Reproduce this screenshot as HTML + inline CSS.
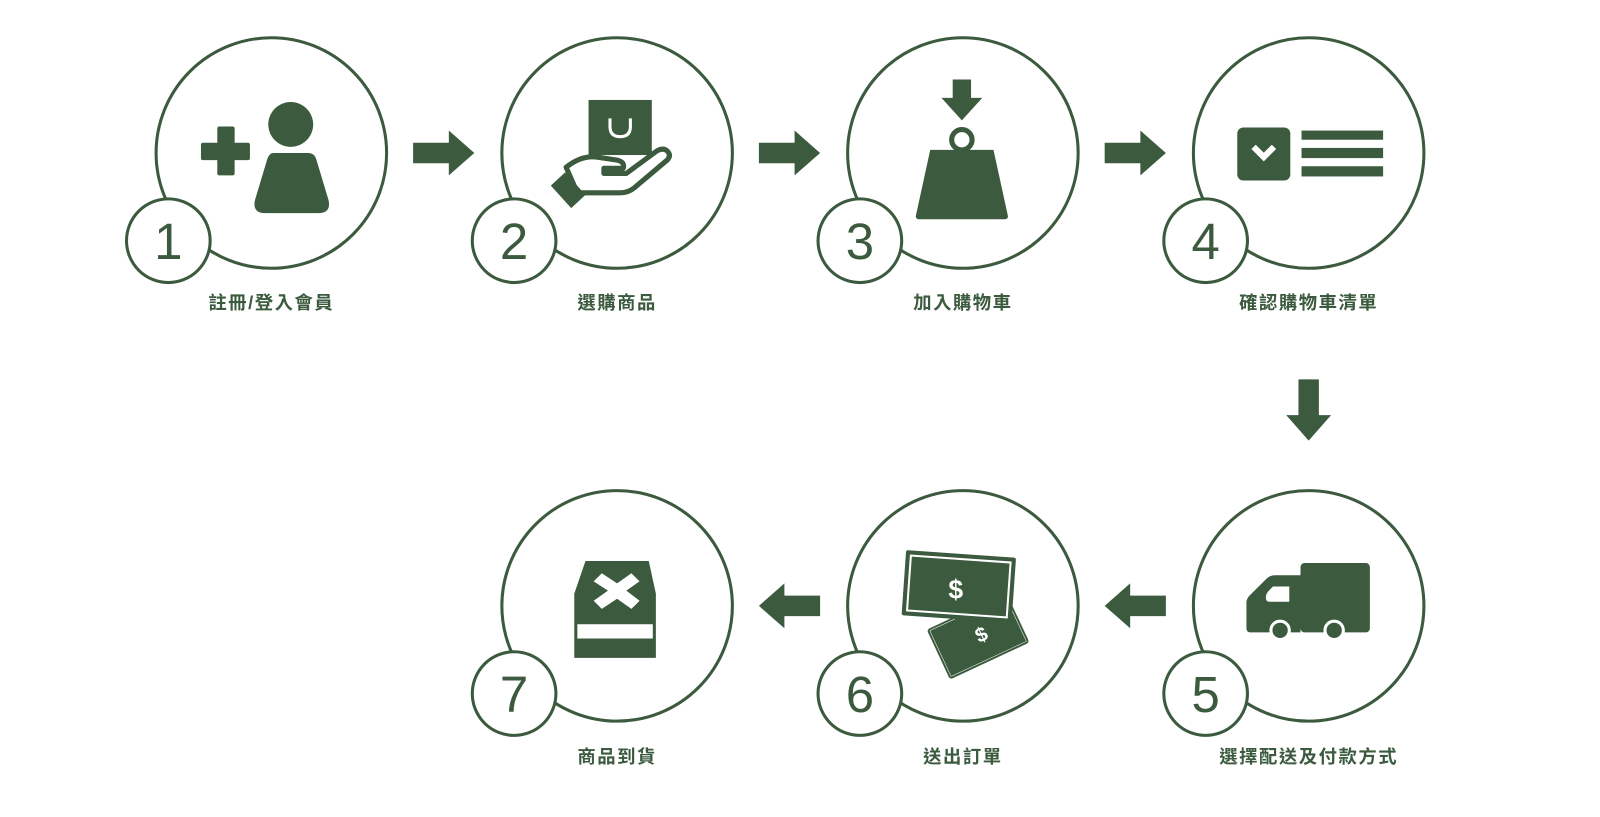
<!DOCTYPE html>
<html><head><meta charset="utf-8"><style>
html,body{margin:0;padding:0;background:#fff;width:1600px;height:817px;overflow:hidden}
text{font-family:"Liberation Sans","Noto Sans CJK TC",sans-serif;fill:#3b5a3e}
</style></head><body>
<svg width="1600" height="817" viewBox="0 0 1568.6 801" xmlns="http://www.w3.org/2000/svg">
<g fill="none" stroke="#3b5a3e" stroke-width="3">
<circle cx="266" cy="150" r="113"/>
<circle cx="605" cy="150" r="113"/>
<circle cx="944" cy="150" r="113"/>
<circle cx="1283" cy="150" r="113"/>
<circle cx="605" cy="594" r="113"/>
<circle cx="944" cy="594" r="113"/>
<circle cx="1283" cy="594" r="113"/>
</g>
<g fill="#fff" stroke="#3b5a3e" stroke-width="3">
<circle cx="165" cy="236" r="41"/>
<circle cx="504" cy="236" r="41"/>
<circle cx="843" cy="236" r="41"/>
<circle cx="1182" cy="236" r="41"/>
<circle cx="504" cy="680" r="41"/>
<circle cx="843" cy="680" r="41"/>
<circle cx="1182" cy="680" r="41"/>
</g>
<g font-size="50" text-anchor="middle" style="font-family:'DejaVu Sans','Liberation Sans',sans-serif">
<text x="165" y="254">1</text>
<text x="504" y="254">2</text>
<text x="843" y="254">3</text>
<text x="1182" y="254">4</text>
<text x="504" y="698">7</text>
<text x="843" y="698">6</text>
<text x="1182" y="698">5</text>
</g>
<g font-size="18" font-weight="bold" text-anchor="middle" letter-spacing="1.5">
<text x="266" y="303">註冊/登入會員</text>
<text x="605" y="303">選購商品</text>
<text x="944" y="303">加入購物車</text>
<text x="1283" y="303">確認購物車清單</text>
<text x="605" y="748">商品到貨</text>
<text x="944" y="748">送出訂單</text>
<text x="1283" y="748">選擇配送及付款方式</text>
</g>
<g fill="#3b5a3e">
<path d="M405 140h35v-12l25 22-25 22v-12h-35z"/>
<path d="M744 140h35v-12l25 22-25 22v-12h-35z"/>
<path d="M1083 140h35v-12l25 22-25 22v-12h-35z"/>
<path d="M1273 372h20v35h12l-22 25-22-25h12z"/>
<path d="M804 584h-35v-12l-25 22 25 22v-12h35z"/>
<path d="M1143 584h-35v-12l-25 22 25 22v-12h35z"/>
<rect x="197" y="140" width="48" height="17" rx="2"/>
<rect x="213" y="124" width="17" height="48" rx="2"/>
<circle cx="285" cy="122" r="22"/>
<path d="M268 150h34q6 0 8 6l12 40q3 13-10 13h-52q-13 0-10-13l12-40q2-6 6-6z"/>
<rect x="577" y="98" width="62" height="54"/>
<path d="M598 116v8q0 10 10 10t10-10v-8" fill="none" stroke="#fff" stroke-width="3"/>
<path d="M555 164q15-12 30-10l20 3q8 2 6 8h-19v5h22l30-22q7-4 11 1q3 4-1 8l-32 27q-6 5-14 5h-42z" fill="none" stroke="#3b5a3e" stroke-width="5" stroke-linejoin="round"/>
<path d="M540 182l14-13 20 22-14 13z"/>
<path d="M934 78h18v18h11l-20 22-20-22h11z"/>
<circle cx="943" cy="137" r="10" fill="none" stroke="#3b5a3e" stroke-width="5"/>
<path d="M912 147h62l14 64q1 4-4 4h-82q-5 0-4-4z"/>
<rect x="1213" y="125" width="52" height="52" rx="6"/>
<path d="M1229 144l10 10 10-10" fill="none" stroke="#fff" stroke-width="6"/>
<rect x="1276" y="128" width="80" height="9"/>
<rect x="1276" y="145" width="80" height="10"/>
<rect x="1276" y="163" width="80" height="10"/>
<rect x="1275" y="552" width="68" height="68" rx="4"/>
<path d="M1275 564h-25q-5 0-8 3l-17 17q-3 3-3 7v25q0 4 4 4h49z"/>
<path d="M1248 575h16v15h-19q-4 0-4-4q0-4 3-7z" fill="#fff"/>
<circle cx="1255" cy="618" r="9" stroke="#fff" stroke-width="3"/>
<circle cx="1308" cy="618" r="9" stroke="#fff" stroke-width="3"/>
<g transform="rotate(-25 958 624)">
<rect x="917" y="598" width="84" height="52" rx="2" stroke="#fff" stroke-width="3"/>
<rect x="917" y="598" width="84" height="52" rx="2" fill="none" stroke="#3b5a3e" stroke-width="2"/>
</g>
<g transform="rotate(4 940 575)">
<rect x="886" y="543" width="108" height="64" rx="2"/>
<rect x="891" y="548" width="98" height="54" fill="none" stroke="#fff" stroke-width="2"/>
</g>
<text x="937" y="587" font-size="26" font-weight="bold" text-anchor="middle" style="fill:#fff">$</text>
<text x="962" y="629" font-size="20" font-weight="bold" text-anchor="middle" style="fill:#fff" transform="rotate(-25 962 622)">$</text>
<path d="M574 550h62l7 32v63h-80v-63z"/>
<rect x="566" y="612" width="74" height="14" fill="#fff"/>
<path d="M590 562l15 10 14-10 8 8-13 9 13 10-8 8-14-10-15 10-8-8 14-10-14-9z" fill="#fff"/>
</g>
</svg>
</body></html>
